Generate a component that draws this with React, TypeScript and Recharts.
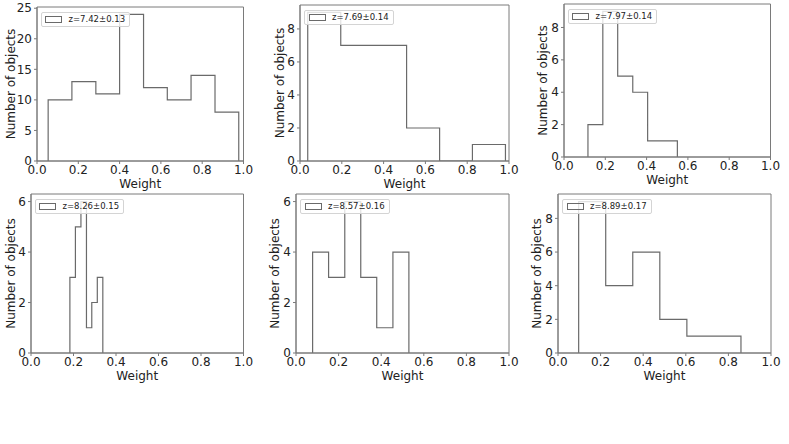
import React from 'react';
import { LineChart, Line, XAxis, YAxis, ReferenceArea, Legend } from 'recharts';

// tick labels shared by every panel
const X_TICKS = [0, 0.2, 0.4, 0.6, 0.8, 1.0];
const Y_TICKS_25 = [0, 5, 10, 15, 20, 25];
const Y_TICKS_8 = [0, 2, 4, 6, 8];
const Y_TICKS_6 = [0, 2, 4, 6];

// bin edges and counts for each redshift slice
const EDGES_742 = [0.054, 0.169, 0.285, 0.4, 0.516, 0.631, 0.746, 0.862, 0.977];
const COUNTS_742 = [10, 13, 11, 24, 12, 10, 14, 8];

const EDGES_769 = [0.037, 0.195, 0.352, 0.51, 0.668, 0.825, 0.983];
const COUNTS_769 = [9, 7, 7, 2, 0, 1];

const EDGES_797 = [0.116, 0.188, 0.26, 0.333, 0.405, 0.477, 0.549];
const COUNTS_797 = [2, 9, 5, 4, 1, 1];

const EDGES_826 = [0.183, 0.209, 0.235, 0.261, 0.286, 0.312, 0.338];
const COUNTS_826 = [3, 5, 6, 1, 2, 3];

const EDGES_857 = [0.078, 0.153, 0.229, 0.304, 0.379, 0.455, 0.53];
const COUNTS_857 = [4, 3, 6, 3, 1, 4];

const EDGES_889 = [0.097, 0.224, 0.351, 0.478, 0.605, 0.732, 0.859];
const COUNTS_889 = [9, 4, 6, 2, 1, 1];

const LABELS = ['z=7.42±0.13', 'z=7.69±0.14', 'z=7.97±0.14', 'z=8.26±0.15', 'z=8.57±0.16', 'z=8.89±0.17'];

const FONT = '"DejaVu Sans", sans-serif';
const TEXT = '#222';
const LINE = '#6a6a6a';
const FRAME = '#7a7a7a';

const Y_AXIS_W = 40;
const TOP_PAD = 8;
const RIGHT_PAD = 16;
const X_AXIS_H = 40;

// outline of a step histogram: up at the first edge, across each bin, down at the last edge
const toSteps = (edges: number[], counts: number[]) => {
  const pts = [{ w: edges[0], n: 0 }];
  counts.forEach((c, i) => pts.push({ w: edges[i], n: c }));
  pts.push({ w: edges[edges.length - 1], n: counts[counts.length - 1] });
  pts.push({ w: edges[edges.length - 1], n: 0 });
  return pts;
};

interface PanelProps {
  box: [number, number, number, number];
  edges: number[];
  counts: number[];
  yTicks: number[];
  label: string;
  labelGap: number;
}

const Panel: React.FC<PanelProps> = ({ box, edges, counts, yTicks, label, labelGap }) => {
  const [x0, x1, y0, y1] = box;
  const plotW = x1 - x0;
  const plotH = y1 - y0;
  const yMax = Math.max(...counts) * 1.05;
  const data = toSteps(edges, counts);

  return (
    <div style={{ position: 'absolute', left: x0 - Y_AXIS_W, top: y0 - TOP_PAD }}>
      <LineChart
        width={Y_AXIS_W + plotW + RIGHT_PAD}
        height={TOP_PAD + plotH + X_AXIS_H}
        data={data}
        margin={{ top: TOP_PAD, right: RIGHT_PAD, left: 0, bottom: 0 }}
        style={{ fontFamily: FONT }}
      >
        <ReferenceArea x1={0} x2={1} y1={0} y2={yMax} fill="none" stroke={FRAME} strokeWidth={1} />
        <XAxis
          dataKey="w"
          type="number"
          domain={[0, 1]}
          ticks={X_TICKS}
          tickFormatter={(v: number) => v.toFixed(1)}
          height={X_AXIS_H}
          tickSize={3}
          tickMargin={1}
          stroke={FRAME}
          tick={{ fontSize: 12, fill: TEXT }}
          label={{ value: 'Weight', position: 'insideBottom', offset: 13, fontSize: 12, fill: TEXT }}
        />
        <YAxis
          type="number"
          domain={[0, yMax]}
          ticks={yTicks}
          allowDataOverflow
          width={Y_AXIS_W}
          tickSize={3}
          tickMargin={2}
          stroke={FRAME}
          tick={{ fontSize: 12, fill: TEXT }}
          label={{
            value: 'Number of objects',
            angle: -90,
            position: 'insideLeft',
            offset: Y_AXIS_W - labelGap,
            fontSize: 12,
            fill: TEXT,
            style: { textAnchor: 'middle' },
          }}
        />
        <Legend
          layout="vertical"
          align="center"
          verticalAlign="middle"
          wrapperStyle={{ left: Y_AXIS_W + 4, top: TOP_PAD + 4.5, width: 'auto', height: 'auto' }}
          content={() => (
            <div
              style={{
                display: 'flex',
                alignItems: 'center',
                border: '1px solid #d4d4d4',
                borderRadius: 2,
                background: 'rgba(255,255,255,0.8)',
                padding: '1.5px 4px 1.5px 3.5px',
                fontFamily: FONT,
                fontSize: 8.5,
                lineHeight: '10px',
                color: TEXT,
                whiteSpace: 'nowrap',
              }}
            >
              <span
                style={{
                  display: 'inline-block',
                  width: 17,
                  height: 7,
                  border: `1px solid ${LINE}`,
                  boxSizing: 'border-box',
                  marginRight: 6.5,
                }}
              />
              {label}
            </div>
          )}
        />
        <Line
          type="stepAfter"
          dataKey="n"
          stroke={LINE}
          strokeWidth={1.2}
          dot={false}
          activeDot={false}
          isAnimationActive={false}
        />
      </LineChart>
    </div>
  );
};

export default function App() {
  return (
    <div style={{ position: 'absolute', left: 0, top: 0, width: 789, height: 444, background: '#fff' }}>
      <Panel box={[36.5, 243, 7, 161]} edges={EDGES_742} counts={COUNTS_742} yTicks={Y_TICKS_25} label={LABELS[0]} labelGap={26.5} />
      <Panel box={[300, 509, 5, 161]} edges={EDGES_769} counts={COUNTS_769} yTicks={Y_TICKS_8} label={LABELS[1]} labelGap={20} />
      <Panel box={[563.5, 770, 4, 157]} edges={EDGES_797} counts={COUNTS_797} yTicks={Y_TICKS_8} label={LABELS[2]} labelGap={21} />
      <Panel box={[30.5, 243, 194, 353]} edges={EDGES_826} counts={COUNTS_826} yTicks={Y_TICKS_6} label={LABELS[3]} labelGap={20.5} />
      <Panel box={[296, 509, 194, 353]} edges={EDGES_857} counts={COUNTS_857} yTicks={Y_TICKS_6} label={LABELS[4]} labelGap={21} />
      <Panel box={[558, 771, 194, 353]} edges={EDGES_889} counts={COUNTS_889} yTicks={Y_TICKS_8} label={LABELS[5]} labelGap={21} />
    </div>
  );
}
